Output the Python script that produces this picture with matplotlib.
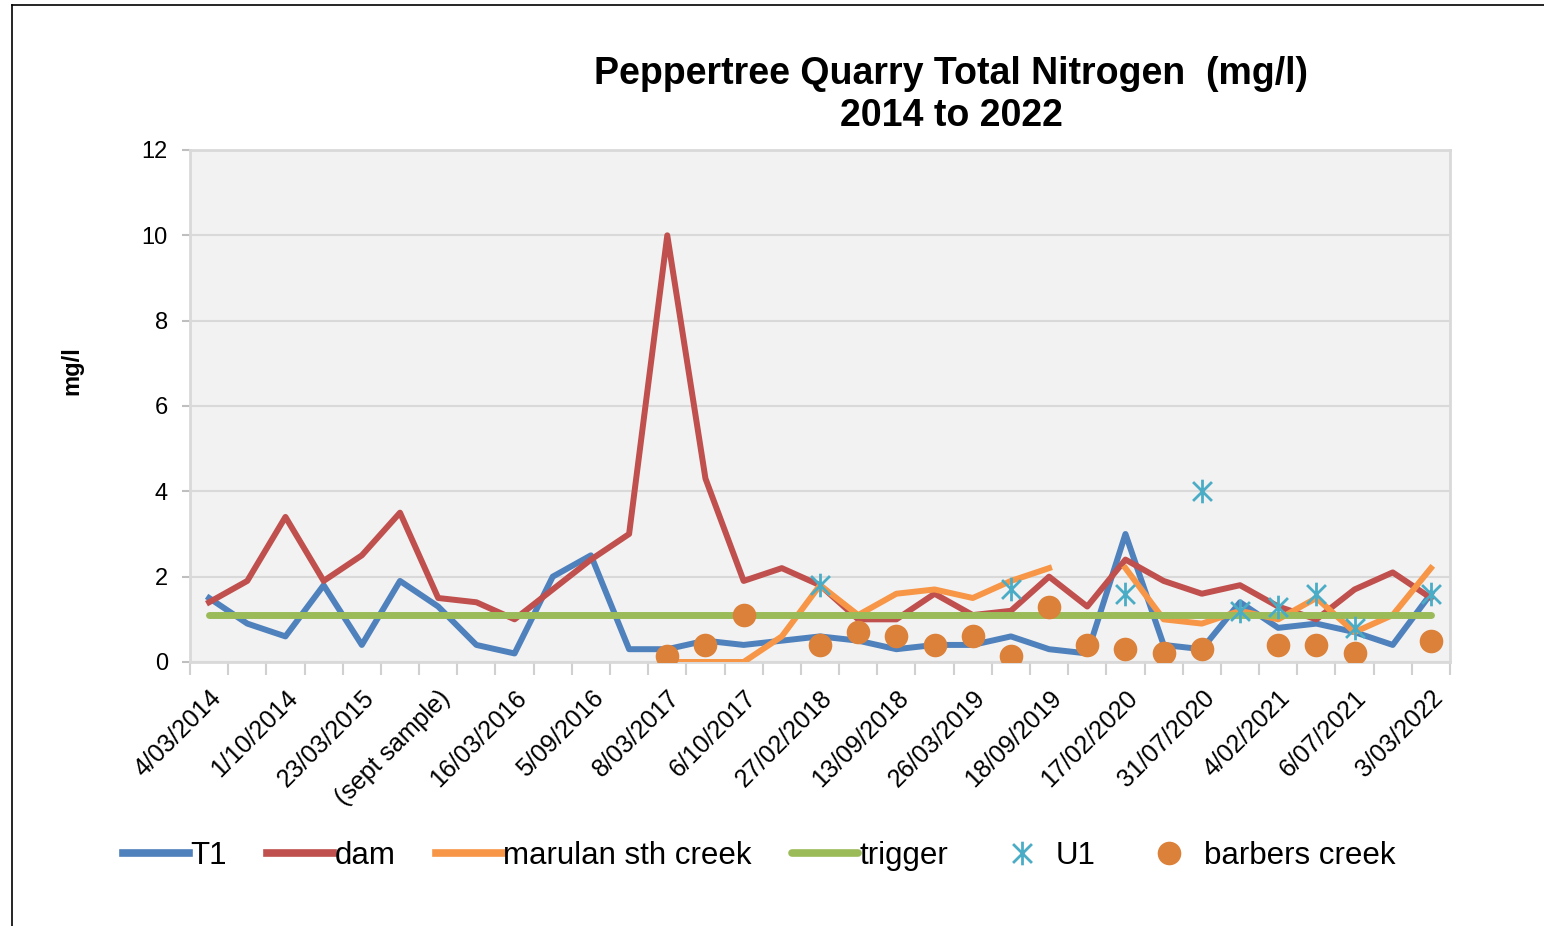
import numpy as np
import matplotlib
matplotlib.use("Agg")
import matplotlib.pyplot as plt
from matplotlib.path import Path
from matplotlib.lines import Line2D

plt.rcParams['font.family'] = ['Liberation Sans', 'DejaVu Sans']

nan = np.nan
labels = ["4/03/2014", "", "1/10/2014", "", "23/03/2015", "", "(sept sample)", "",
          "16/03/2016", "", "5/09/2016", "", "8/03/2017", "", "6/10/2017", "",
          "27/02/2018", "", "13/09/2018", "", "26/03/2019", "", "18/09/2019", "",
          "17/02/2020", "", "31/07/2020", "", "4/02/2021", "", "6/07/2021", "", "3/03/2022"]

t1 = [1.5, 0.9, 0.6, 1.8, 0.4, 1.9, 1.3, 0.4, 0.2, 2.0, 2.5, 0.3, 0.3, 0.5, 0.4, 0.5,
      0.6, 0.5, 0.3, 0.4, 0.4, 0.6, 0.3, 0.2, 3.0, 0.4, 0.3, 1.4, 0.8, 0.9, 0.7, 0.4, 1.6]
dam = [1.4, 1.9, 3.4, 1.9, 2.5, 3.5, 1.5, 1.4, 1.0, 1.7, 2.4, 3.0, 10.0, 4.3, 1.9, 2.2,
       1.8, 1.0, 1.0, 1.6, 1.1, 1.2, 2.0, 1.3, 2.4, 1.9, 1.6, 1.8, 1.3, 1.0, 1.7, 2.1, 1.5]
marulan = [nan] * 12 + [0.0, 0.0, 0.0, 0.6, 1.8, 1.1, 1.6, 1.7, 1.5, 1.9, 2.2, nan,
                        2.2, 1.0, 0.9, 1.2, 1.0, 1.5, 0.7, 1.1, 2.2]
trigger = [1.1] * 33
u1 = [nan] * 16 + [1.8, nan, nan, nan, nan, 1.7, nan, nan, 1.6, nan, 4.0, 1.2, 1.3, 1.6, 0.8, nan, 1.6]
barbers = [nan] * 12 + [0.15, 0.4, 1.1, nan, 0.4, 0.7, 0.6, 0.4, 0.6, 0.15, 1.3, 0.4,
                        0.3, 0.2, 0.3, nan, 0.4, 0.4, 0.2, nan, 0.5]

x = np.arange(len(labels))

c_t1 = '#4F81BD'
c_dam = '#C0504D'
c_mar = '#F79646'
c_trig = '#9BBB59'
c_u1 = '#4BACC6'
c_bar = '#DC8139'

star = Path([(0, -1), (0, 1), (-0.8, -0.8), (0.8, 0.8), (-0.8, 0.8), (0.8, -0.8)],
            [Path.MOVETO, Path.LINETO, Path.MOVETO, Path.LINETO, Path.MOVETO, Path.LINETO])

fig = plt.figure(figsize=(15.44, 9.26), dpi=100)
ax = fig.add_axes([190/1544, 1-662/926, 1260/1544, 512/926])
ax.set_facecolor('#F2F2F2')

ax.plot(x, t1, color=c_t1, lw=4.3, solid_joinstyle='round', label='T1', zorder=3)
ax.plot(x, dam, color=c_dam, lw=4.3, solid_joinstyle='round', label='dam', zorder=3)
ax.plot(x, marulan, color=c_mar, lw=4.3, solid_joinstyle='round', label='marulan sth creek', zorder=3)
ax.plot(x, trigger, color=c_trig, lw=5, solid_capstyle='round', label='trigger', zorder=4)
ax.plot(x, u1, ls='none', marker=star, ms=17, mew=2, color=c_u1, label='U1', zorder=5)
ax.plot(x, barbers, ls='none', marker='o', ms=17, mew=0, color=c_bar, label='barbers creek', zorder=5)

ax.set_xlim(-0.5, len(labels) - 0.5)
ax.set_ylim(0, 12)
ax.set_yticks(np.arange(0, 13, 2))
ax.yaxis.grid(True, color='#D9D9D9', lw=1.5)
ax.set_axisbelow(True)
ax.tick_params(axis='y', labelsize=17, length=6, color='#BFBFBF', width=1.5, pad=10)

ax.set_xticks(x)
ax.set_xticklabels(labels, rotation=45, ha='right', rotation_mode='anchor', fontsize=18)
ax.tick_params(axis='x', length=0, pad=17)
ax.set_xticks(np.arange(-0.5, len(labels), 1), minor=True)
ax.tick_params(axis='x', which='minor', length=9, color='#D0D0D0', width=1.5)
for lbl in ax.get_xticklabels():
    lbl.set_x(lbl.get_position()[0])

for s in ax.spines.values():
    s.set_color('#D9D9D9')
    s.set_linewidth(2)

ax.set_ylabel('mg/l', fontsize=17, fontweight='bold')
ax.yaxis.set_label_coords(-0.085, 0.57)

fig.text(951/1544, 1-95/926, 'Peppertree Quarry Total Nitrogen  (mg/l)\n2014 to 2022',
         ha='center', va='center', fontsize=27, fontweight='bold', linespacing=1.25)

leg = fig.legend(loc='center', bbox_to_anchor=(759/1544, 1-856/926), ncol=6, frameon=False,
                 fontsize=22.5, handlelength=2.1, handletextpad=0.05, columnspacing=1.3)
for h in leg.get_lines():
    if h.get_linestyle() != 'None':
        h.set_linewidth(5.5)

fig.add_artist(Line2D([12/1544, 12/1544], [0, 1-5/926], color='black', lw=1.2))
fig.add_artist(Line2D([12/1544, 1], [1-5/926, 1-5/926], color='black', lw=1.2))

fig.savefig('out.png', dpi=100)
